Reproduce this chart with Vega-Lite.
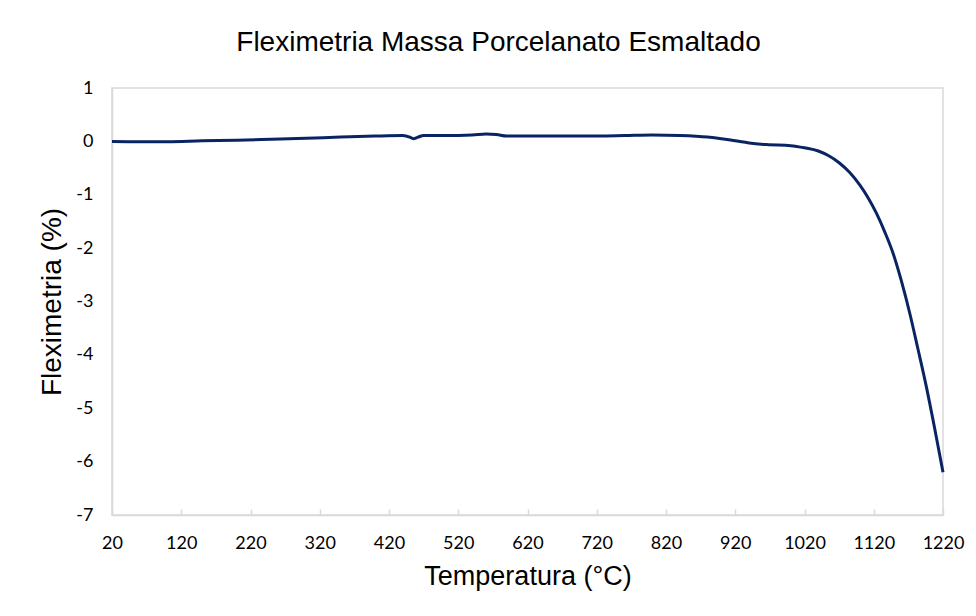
{
  "$schema": "https://vega.github.io/schema/vega-lite/v6.json",
  "width": 831,
  "height": 427,
  "autosize": {"type": "none"},
  "padding": {"left": 112, "top": 88, "right": 33, "bottom": 101},
  "background": "white",
  "config": {
    "view": {"stroke": "#d9d9d9", "strokeWidth": 1.5},
    "font": "Liberation Sans"
  },
  "title": {
    "text": "Fleximetria Massa Porcelanato Esmaltado",
    "font": "Liberation Sans",
    "fontSize": 28,
    "fontWeight": "normal",
    "color": "#000000",
    "anchor": "middle",
    "dx": -29,
    "offset": 22
  },
  "data": {
    "values": [
      {"t": 20, "f": 0.0},
      {"t": 60, "f": -0.005},
      {"t": 100, "f": -0.005},
      {"t": 150, "f": 0.01},
      {"t": 200, "f": 0.02},
      {"t": 250, "f": 0.04},
      {"t": 300, "f": 0.06},
      {"t": 350, "f": 0.08},
      {"t": 400, "f": 0.1},
      {"t": 440, "f": 0.11},
      {"t": 450, "f": 0.08},
      {"t": 455, "f": 0.05},
      {"t": 462, "f": 0.08},
      {"t": 470, "f": 0.11},
      {"t": 500, "f": 0.11},
      {"t": 540, "f": 0.12},
      {"t": 560, "f": 0.14},
      {"t": 575, "f": 0.13},
      {"t": 590, "f": 0.1},
      {"t": 620, "f": 0.1},
      {"t": 700, "f": 0.1},
      {"t": 760, "f": 0.11},
      {"t": 800, "f": 0.12},
      {"t": 840, "f": 0.11},
      {"t": 880, "f": 0.08},
      {"t": 900, "f": 0.05},
      {"t": 920, "f": 0.01},
      {"t": 940, "f": -0.03},
      {"t": 965, "f": -0.06},
      {"t": 1000, "f": -0.08},
      {"t": 1020, "f": -0.12},
      {"t": 1040, "f": -0.18},
      {"t": 1055, "f": -0.27},
      {"t": 1070, "f": -0.4},
      {"t": 1085, "f": -0.58},
      {"t": 1100, "f": -0.82},
      {"t": 1112, "f": -1.06},
      {"t": 1124, "f": -1.35},
      {"t": 1136, "f": -1.7},
      {"t": 1148, "f": -2.1},
      {"t": 1160, "f": -2.62},
      {"t": 1172, "f": -3.22},
      {"t": 1184, "f": -3.9},
      {"t": 1196, "f": -4.6},
      {"t": 1208, "f": -5.38},
      {"t": 1220, "f": -6.2}
    ]
  },
  "mark": {"type": "line", "color": "#0a2463", "strokeWidth": 3, "interpolate": "monotone"},
  "encoding": {
    "x": {
      "field": "t",
      "type": "quantitative",
      "scale": {"domain": [20, 1220], "nice": false, "zero": false},
      "axis": {
        "title": "Temperatura (°C)",
        "values": [20, 120, 220, 320, 420, 520, 620, 720, 820, 920, 1020, 1120, 1220],
        "labelExpr": "datum.value + ''",
        "grid": false,
        "domainColor": "#d9d9d9",
        "domainWidth": 1.5,
        "tickColor": "#d9d9d9",
        "tickWidth": 1.5,
        "tickSize": -6,
        "labelFont": "Lato",
        "labelFontSize": 18,
        "labelColor": "#000000",
        "labelPadding": 25,
        "labelFlush": false,
        "titleFont": "Liberation Sans",
        "titleFontSize": 27,
        "titleFontWeight": "normal",
        "titleColor": "#000000",
        "titlePadding": 11
      }
    },
    "y": {
      "field": "f",
      "type": "quantitative",
      "scale": {"domain": [-7, 1], "nice": false, "zero": false},
      "axis": {
        "title": "Fleximetria (%)",
        "values": [-7, -6, -5, -4, -3, -2, -1, 0, 1],
        "labelExpr": "datum.value + ''",
        "grid": false,
        "domainColor": "#d9d9d9",
        "domainWidth": 1.5,
        "ticks": false,
        "labelFont": "Lato",
        "labelFontSize": 18,
        "labelColor": "#000000",
        "labelPadding": 19,
        "titleFont": "Liberation Sans",
        "titleFontSize": 28,
        "titleFontWeight": "normal",
        "titleColor": "#000000",
        "titlePadding": 9
      }
    }
  }
}
